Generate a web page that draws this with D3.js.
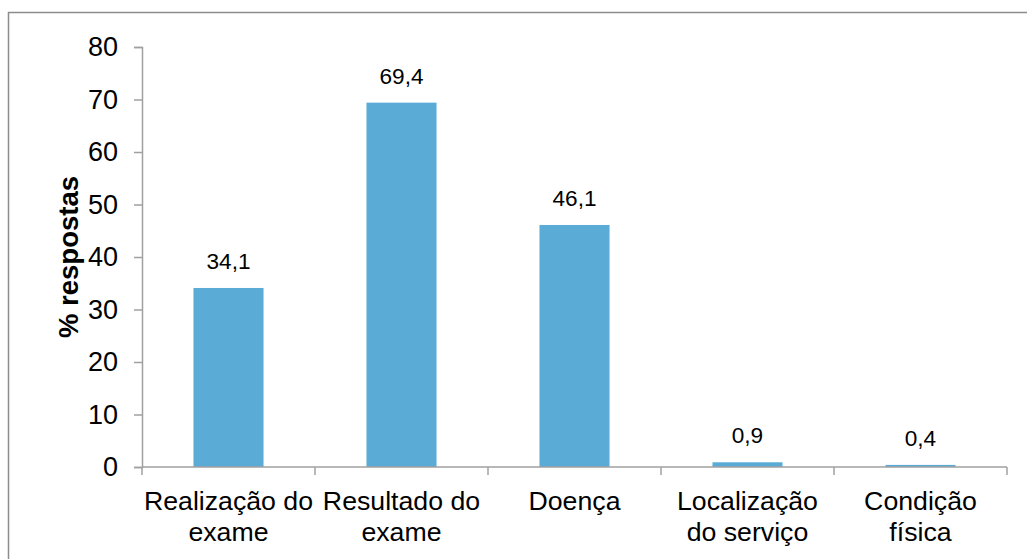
<!DOCTYPE html>
<html><head><meta charset="utf-8">
<script src="https://cdn.jsdelivr.net/npm/d3@7"></script>
<style>body{margin:0;background:#fff}svg{display:block}text{font-family:"Liberation Sans",Arial,sans-serif}</style>
</head><body>
<svg id="c" width="1027" height="559"></svg>
<script>
const categories = [["Realização do","exame"],["Resultado do","exame"],["Doença"],["Localização","do serviço"],["Condição","física"]];
const values = [34.1, 69.4, 46.1, 0.9, 0.4];
const valueLabels = ["34,1","69,4","46,1","0,9","0,4"];
const yTicks = [0,10,20,30,40,50,60,70,80];
const yTitle = "% respostas";

const svg = d3.select("#c");
svg.append("rect").attr("x",8.5).attr("y",12.5).attr("width",1100).attr("height",600)
  .attr("fill","none").attr("stroke","#8c8c8c").attr("stroke-width",1.5);

const L=142, R=1007, T=47, B=467;
const idx = categories.map((d,i)=>i);
const x = d3.scaleBand().domain(idx).range([L,R]).paddingInner(0.595).paddingOuter(0.2975);
const xb = d3.scaleBand().domain(idx).range([L,R]);
const y = d3.scaleLinear().domain([0,80]).range([B,T]);
const axisColor = "#a0a0a0";

// y axis
const ya = svg.append("g").attr("transform",`translate(${L},0)`)
  .call(d3.axisLeft(y).tickValues(yTicks).tickSize(8).tickPadding(16));
ya.select(".domain").attr("stroke",axisColor).attr("stroke-width",1.5);
ya.selectAll(".tick line").attr("stroke",axisColor).attr("stroke-width",1.5);
ya.selectAll(".tick text").attr("font-size",27).attr("fill","#000").attr("font-family","Liberation Sans, Arial, sans-serif");

// bars
svg.selectAll(".bar").data(values).join("rect")
  .attr("x",(d,i)=>x(i)).attr("width",x.bandwidth())
  .attr("y",d=>y(d)).attr("height",d=>B-y(d)).attr("fill","#5aacd6");

// x axis
const xg = svg.append("g");
xg.append("line").attr("x1",L).attr("x2",R).attr("y1",B).attr("y2",B).attr("stroke",axisColor).attr("stroke-width",1.5);
const bounds = idx.map(i=>xb(i)).concat([R]);
xg.selectAll(".xt").data(bounds).join("line")
  .attr("x1",d=>d).attr("x2",d=>d).attr("y1",B).attr("y2",B+8).attr("stroke",axisColor).attr("stroke-width",1.5);

// category labels
categories.forEach((lines,i)=>{
  const t = svg.append("text").attr("text-anchor","middle").attr("font-size",26.7).attr("fill","#000");
  lines.forEach((ln,j)=>{
    t.append("tspan").attr("x",xb(i)+xb.bandwidth()/2).attr("y",510+j*31).text(ln);
  });
});

// value labels
svg.selectAll(".vl").data(values).join("text")
  .attr("x",(d,i)=>x(i)+x.bandwidth()/2).attr("y",d=>y(d)-19)
  .attr("text-anchor","middle").attr("font-size",22.6).attr("fill","#000")
  .text((d,i)=>valueLabels[i]);

// y title
svg.append("text").attr("transform",`translate(78,${(T+B)/2}) rotate(-90)`)
  .attr("text-anchor","middle").attr("font-size",27.5).attr("font-weight","bold").attr("fill","#000")
  .text(yTitle);
</script>
</body></html>
